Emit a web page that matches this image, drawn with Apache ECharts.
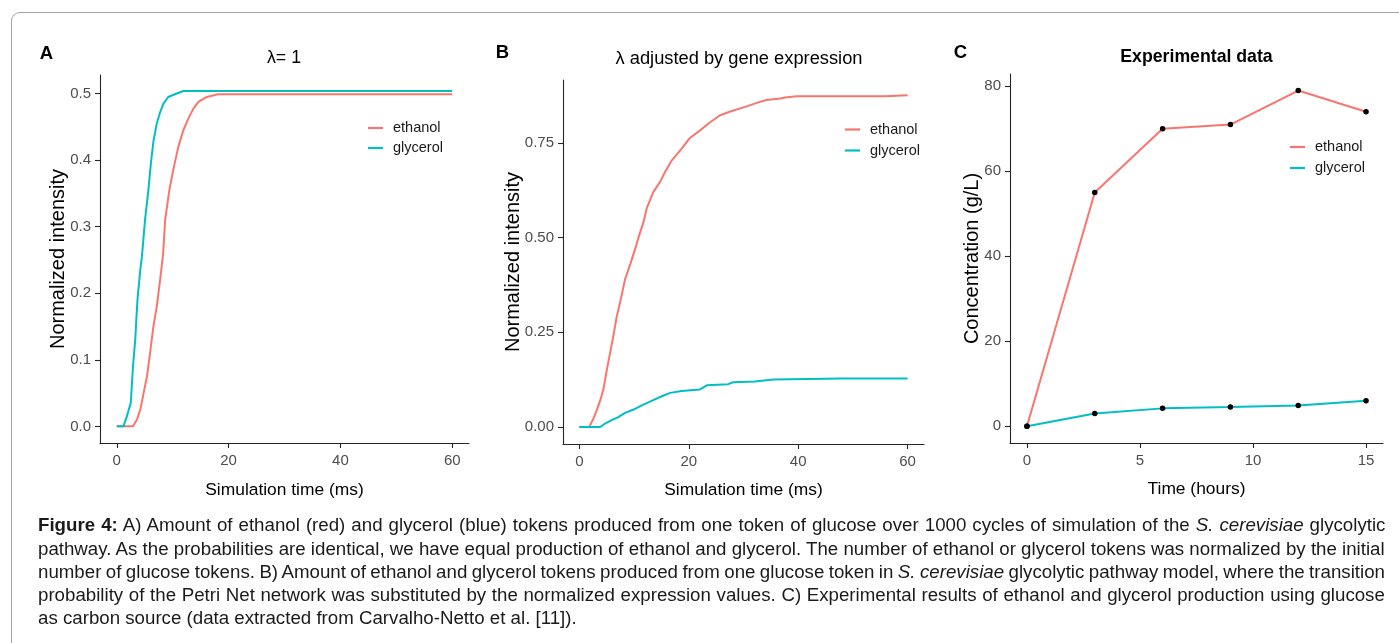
<!DOCTYPE html>
<html>
<head>
<meta charset="utf-8">
<script src="https://cdn.jsdelivr.net/npm/echarts@6/dist/echarts.min.js"></script>
<style>
html,body{margin:0;padding:0;width:1399px;height:643px;overflow:hidden;background:#fff}
#frame{position:absolute;left:11px;top:12px;width:1500px;height:700px;border:1px solid #a3a3a3;border-radius:9px;box-sizing:border-box}
#chart{position:absolute;left:0;top:0;width:1399px;height:643px}
#caption{position:absolute;left:38px;top:513.4px;font-family:'Liberation Sans',Arial,sans-serif;font-size:18.7px;line-height:23.25px;color:#1a1a1a}
#caption .row{height:23.25px;white-space:nowrap}
#caption .ln{display:inline-block;white-space:nowrap}
</style>
</head>
<body>
<div id="frame"></div>
<div id="chart"></div>
<div id="caption">
<div class="row"><span class="ln"><b>Figure 4:</b> A) Amount of ethanol (red) and glycerol (blue) tokens produced from one token of glucose over 1000 cycles of simulation of the <i>S. cerevisiae</i> glycolytic</span></div>
<div class="row"><span class="ln">pathway. As the probabilities are identical, we have equal production of ethanol and glycerol. The number of ethanol or glycerol tokens was normalized by the initial</span></div>
<div class="row"><span class="ln">number of glucose tokens. B) Amount of ethanol and glycerol tokens produced from one glucose token in <i>S. cerevisiae</i> glycolytic pathway model, where the transition</span></div>
<div class="row"><span class="ln">probability of the Petri Net network was substituted by the normalized expression values. C) Experimental results of ethanol and glycerol production using glucose</span></div>
<div class="row"><span class="ln last">as carbon source (data extracted from Carvalho-Netto et al. [11]).</span></div>
</div>
<script>
// ---------- DATA ----------
// Panel A (lambda = 1): simulation time (ms) and normalized intensity
const aEthanolTime = [0, 2.9, 3.6, 4.2, 4.8, 5.4, 5.95, 6.55, 7.15, 7.75, 8.3, 8.65, 9.4, 10.1, 11.0, 11.9, 12.8, 13.7, 14.6, 16.1, 18.1, 60];
const aEthanolValue = [0, 0, 0.01, 0.025, 0.05, 0.075, 0.11, 0.15, 0.18, 0.22, 0.26, 0.31, 0.355, 0.385, 0.42, 0.445, 0.4625, 0.4775, 0.4875, 0.495, 0.499, 0.499];
const aGlycerolTime = [0, 1.2, 1.8, 2.5, 2.9, 3.3, 3.7, 4.2, 4.5, 5.05, 5.65, 6.1, 6.55, 7.15, 7.75, 8.35, 9.2, 10.4, 11.9, 60];
const aGlycerolValue = [0, 0, 0.015, 0.035, 0.09, 0.13, 0.19, 0.235, 0.255, 0.31, 0.355, 0.395, 0.428, 0.455, 0.472, 0.485, 0.495, 0.499, 0.504, 0.504];
// Panel B (lambda adjusted by gene expression)
const bEthanolTime = [0, 1.8, 2.55, 3.2, 3.8, 4.4, 5.0, 5.6, 6.2, 6.8, 7.45, 8.35, 9.3, 10.2, 10.8, 11.7, 12.3, 13.5, 14.75, 15.65, 16.9, 18.7, 20.2, 22.05, 23.6, 25.7, 27.85, 30.3, 32.7, 34.2, 36.7, 37.6, 39.7, 55.9, 56.0, 60];
const bEthanolValue = [0, 0, 0.022, 0.045, 0.07, 0.1, 0.15, 0.195, 0.24, 0.29, 0.33, 0.39, 0.43, 0.47, 0.5, 0.54, 0.577, 0.62, 0.647, 0.673, 0.704, 0.735, 0.763, 0.783, 0.801, 0.823, 0.834, 0.845, 0.857, 0.863, 0.867, 0.87, 0.873, 0.873, 0.876, 0.876];
const bGlycerolTime = [0, 3.8, 4.7, 5.9, 7.1, 8.35, 9.9, 11.4, 13.2, 15.05, 16.6, 18.7, 22.05, 23.3, 27.2, 28.1, 32.1, 35.5, 47.9, 60];
const bGlycerolValue = [0, 0, 0.009, 0.018, 0.026, 0.037, 0.046, 0.057, 0.069, 0.081, 0.09, 0.095, 0.099, 0.11, 0.113, 0.118, 0.12, 0.125, 0.128, 0.128];
// Panel C (experimental data)
const cHours = [0, 3, 6, 9, 12, 15];
const cEthanol = [0, 55, 70, 71, 79, 74];
const cGlycerol = [0, 3, 4.2, 4.5, 4.9, 6];
// Tick values
const aXTicks = [0, 20, 40, 60];
const aYTicks = [0, 0.1, 0.2, 0.3, 0.4, 0.5];
const bXTicks = [0, 20, 40, 60];
const bYTicks = [0, 0.25, 0.5, 0.75];
const cXTicks = [0, 5, 10, 15];
const cYTicks = [0, 20, 40, 60, 80];
const seriesNames = ['ethanol', 'glycerol'];
// ---------- END DATA ----------

const RED = '#F8766D', CYAN = '#00BFC4';
const F = "'Liberation Sans', Arial, sans-serif";
const zip = (xs, ys) => xs.map((x, i) => [x, ys[i]]);

function xAxis(gi, min, max, ticks, name, gap) {
  return {
    type: 'value', gridIndex: gi, min: min, max: max,
    name: name, nameLocation: 'middle', nameGap: gap, nameMoveOverlap: false,
    nameTextStyle: {fontSize: 17.4, color: '#000', fontFamily: F},
    axisLine: {show: true, onZero: false, lineStyle: {color: '#262626', width: 1.1}},
    axisTick: {show: true, length: 5, customValues: ticks, lineStyle: {color: '#262626', width: 1.1}},
    axisLabel: {show: true, customValues: ticks, color: '#4d4d4d', fontSize: 15, margin: 10.5, fontFamily: F,
      formatter: v => String(v)},
    splitLine: {show: false}
  };
}
function yAxis(gi, min, max, ticks, name, gap, digits) {
  return {
    type: 'value', gridIndex: gi, min: min, max: max,
    name: name, nameLocation: 'middle', nameGap: gap, nameMoveOverlap: false,
    nameTextStyle: {fontSize: 20, color: '#000', fontFamily: F},
    axisLine: {show: true, onZero: false, lineStyle: {color: '#262626', width: 1.1}},
    axisTick: {show: true, length: 5, customValues: ticks, lineStyle: {color: '#262626', width: 1.1}},
    axisLabel: {show: true, customValues: ticks, color: '#4d4d4d', fontSize: 15, margin: 9, fontFamily: F,
      formatter: v => Number(v).toFixed(digits)},
    splitLine: {show: false}
  };
}
function legend(left, top, gap) {
  return {
    orient: 'vertical', left: left, top: top, icon: 'rect', itemWidth: 15, itemHeight: 2.2,
    itemGap: gap, padding: 0, selectedMode: false,
    textStyle: {fontSize: 14.5, color: '#1a1a1a', fontFamily: F, lineHeight: 20, padding: [0, 0, 0, 5]},
    data: [{name: seriesNames[0], itemStyle: {color: RED}}, {name: seriesNames[1], itemStyle: {color: CYAN}}]
  };
}
function simLine(name, xi, data, color) {
  return {type: 'line', name: name, xAxisIndex: xi, yAxisIndex: xi, data: data, showSymbol: false,
    symbol: 'none', lineStyle: {width: 2, color: color}, itemStyle: {color: color}, silent: true};
}
function expLine(name, data, color) {
  return {type: 'line', name: name, xAxisIndex: 2, yAxisIndex: 2, data: data, showSymbol: true,
    symbol: 'circle', symbolSize: 5.5, lineStyle: {width: 2, color: color}, itemStyle: {color: '#000'}, silent: true};
}

const chart = echarts.init(document.getElementById('chart'), null, {renderer: 'canvas'});
chart.setOption({
  animation: false,
  backgroundColor: 'transparent',
  grid: [
    {left: 100, top: 75, width: 369, height: 368, containLabel: false, outerBoundsMode: 'none'},
    {left: 563, top: 80, width: 361, height: 364, containLabel: false, outerBoundsMode: 'none'},
    {left: 1010, top: 74, width: 373, height: 369, containLabel: false, outerBoundsMode: 'none'}
  ],
  xAxis: [
    xAxis(0, -3, 63, aXTicks, 'Simulation time (ms)', 39),
    xAxis(1, -3, 63, bXTicks, 'Simulation time (ms)', 38),
    xAxis(2, -0.75, 15.75, cXTicks, 'Time (hours)', 38)
  ],
  yAxis: [
    yAxis(0, -0.025, 0.528, aYTicks, 'Normalized intensity', 32, 1),
    yAxis(1, -0.045, 0.916, bYTicks, 'Normalized intensity', 40, 2),
    yAxis(2, -3.95, 82.9, cYTicks, 'Concentration (g/L)', 28, 0)
  ],
  legend: [legend(368, 118, 0), legend(845, 119.5, 1), legend(1290, 137, 1)],
  graphic: [
    {type: 'text', x: 46.5, y: 54, style: {text: 'A', fontSize: 18.5, fontWeight: 'bold', fontFamily: F, fill: '#000', align: 'center', verticalAlign: 'middle'}},
    {type: 'text', x: 502.5, y: 52.5, style: {text: 'B', fontSize: 18.5, fontWeight: 'bold', fontFamily: F, fill: '#000', align: 'center', verticalAlign: 'middle'}},
    {type: 'text', x: 960.5, y: 53, style: {text: 'C', fontSize: 18.5, fontWeight: 'bold', fontFamily: F, fill: '#000', align: 'center', verticalAlign: 'middle'}},
    {type: 'text', x: 284, y: 58.5, style: {text: 'λ= 1', fontSize: 17.8, fontFamily: F, fill: '#000', align: 'center', verticalAlign: 'middle'}},
    {type: 'text', x: 739, y: 58.5, style: {text: 'λ adjusted by gene expression', fontSize: 18.3, fontFamily: F, fill: '#000', align: 'center', verticalAlign: 'middle'}},
    {type: 'text', x: 1196.5, y: 57.5, style: {text: 'Experimental data', fontSize: 17.7, fontWeight: 'bold', fontFamily: F, fill: '#000', align: 'center', verticalAlign: 'middle'}}
  ],
  series: [
    simLine('ethanol', 0, zip(aEthanolTime, aEthanolValue), RED),
    simLine('glycerol', 0, zip(aGlycerolTime, aGlycerolValue), CYAN),
    simLine('ethanol', 1, zip(bEthanolTime, bEthanolValue), RED),
    simLine('glycerol', 1, zip(bGlycerolTime, bGlycerolValue), CYAN),
    expLine('ethanol', zip(cHours, cEthanol), RED),
    expLine('glycerol', zip(cHours, cGlycerol), CYAN)
  ]
});

// justify caption lines to the full text width
(function () {
  const target = 1347;
  document.querySelectorAll('#caption .ln').forEach(el => {
    if (el.classList.contains('last')) return;
    const w = el.offsetWidth;
    const n = (el.textContent.match(/ /g) || []).length;
    if (n > 0) el.style.wordSpacing = ((target - w) / n) + 'px';
  });
})();
</script>
</body>
</html>
